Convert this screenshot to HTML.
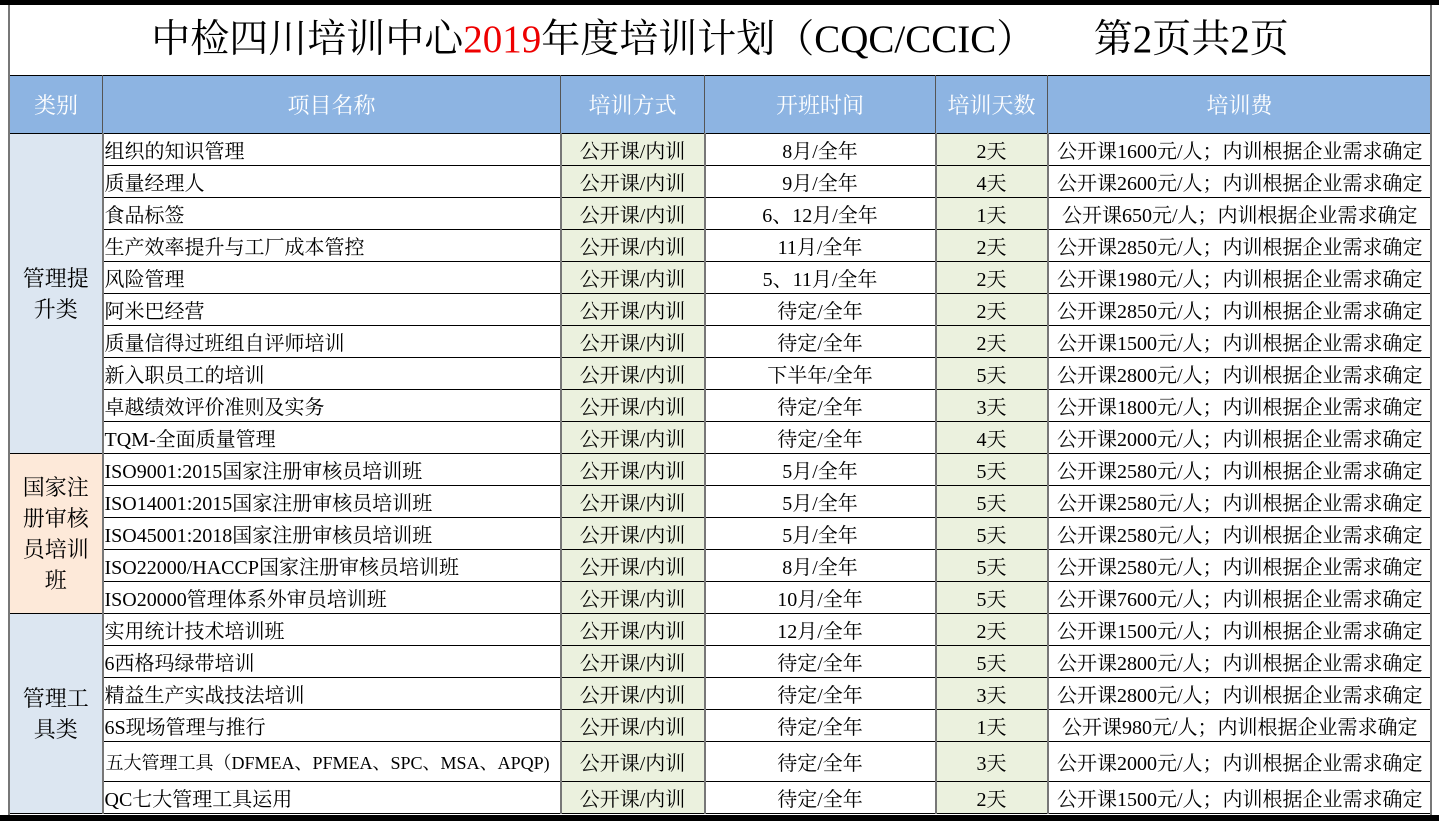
<!DOCTYPE html>
<html><head><meta charset="utf-8"><style>
*{margin:0;padding:0;box-sizing:border-box}
body{width:1439px;height:821px;background:#fff;position:relative;overflow:hidden;font-family:"Liberation Serif","Noto Serif CJK SC",serif;color:#000}
.topbar{position:absolute;left:0;top:0;width:1439px;height:5px;background:#000}
.bot{position:absolute;left:0;top:815px;width:1439px;height:6px;background:#000}
.lb{position:absolute;left:8px;top:5px;width:2px;height:810px;background:#777}
.rb{position:absolute;left:1430px;top:5px;width:2px;height:810px;background:#777}
.title{position:absolute;left:10px;top:5px;width:1420px;height:70px;text-align:center;font-size:39px;line-height:70px;white-space:pre}
.title span{color:#e00}
table{position:absolute;left:9px;top:75px;width:1422px;border-collapse:collapse;table-layout:fixed}
td{border:1.5px solid #000;font-size:20px;white-space:nowrap;overflow:hidden;padding:0}
tr.h td{height:58px;background:#8db4e2;color:#fff;font-size:22px;text-align:center;border-left-color:#555;border-right-color:#555}
tr td{height:32px}
.n{text-align:left;padding-left:1px}
.g{background:#ebf1de;text-align:center;border-left:2px solid #777;border-right:2px solid #777}
.c{text-align:center}
.cat{text-align:center;font-size:22px;line-height:31px;white-space:normal;border-right:2px solid #777}
.b1{background:#dce6f1}.b2{background:#fde9d9}
</style></head><body>
<div class="topbar"></div>
<div class="title">中检四川培训中心<span>2019</span>年度培训计划（CQC/CCIC）      第2页共2页</div>
<table>
<colgroup><col style="width:93px"><col style="width:458px"><col style="width:144px"><col style="width:231px"><col style="width:112px"><col style="width:384px"></colgroup>
<tr class="h"><td>类别</td><td>项目名称</td><td>培训方式</td><td>开班时间</td><td>培训天数</td><td>培训费</td></tr>
<tr><td class="cat b1" rowspan="10">管理提<br>升类</td><td class="n">组织的知识管理</td><td class="g">公开课/内训</td><td class="c">8月/全年</td><td class="g">2天</td><td class="c">公开课1600元/人；内训根据企业需求确定</td></tr>
<tr><td class="n">质量经理人</td><td class="g">公开课/内训</td><td class="c">9月/全年</td><td class="g">4天</td><td class="c">公开课2600元/人；内训根据企业需求确定</td></tr>
<tr><td class="n">食品标签</td><td class="g">公开课/内训</td><td class="c">6、12月/全年</td><td class="g">1天</td><td class="c">公开课650元/人；内训根据企业需求确定</td></tr>
<tr><td class="n">生产效率提升与工厂成本管控</td><td class="g">公开课/内训</td><td class="c">11月/全年</td><td class="g">2天</td><td class="c">公开课2850元/人；内训根据企业需求确定</td></tr>
<tr><td class="n">风险管理</td><td class="g">公开课/内训</td><td class="c">5、11月/全年</td><td class="g">2天</td><td class="c">公开课1980元/人；内训根据企业需求确定</td></tr>
<tr><td class="n">阿米巴经营</td><td class="g">公开课/内训</td><td class="c">待定/全年</td><td class="g">2天</td><td class="c">公开课2850元/人；内训根据企业需求确定</td></tr>
<tr><td class="n">质量信得过班组自评师培训</td><td class="g">公开课/内训</td><td class="c">待定/全年</td><td class="g">2天</td><td class="c">公开课1500元/人；内训根据企业需求确定</td></tr>
<tr><td class="n">新入职员工的培训</td><td class="g">公开课/内训</td><td class="c">下半年/全年</td><td class="g">5天</td><td class="c">公开课2800元/人；内训根据企业需求确定</td></tr>
<tr><td class="n">卓越绩效评价准则及实务</td><td class="g">公开课/内训</td><td class="c">待定/全年</td><td class="g">3天</td><td class="c">公开课1800元/人；内训根据企业需求确定</td></tr>
<tr><td class="n">TQM-全面质量管理</td><td class="g">公开课/内训</td><td class="c">待定/全年</td><td class="g">4天</td><td class="c">公开课2000元/人；内训根据企业需求确定</td></tr>
<tr><td class="cat b2" rowspan="5">国家注<br>册审核<br>员培训<br>班</td><td class="n">ISO9001:2015国家注册审核员培训班</td><td class="g">公开课/内训</td><td class="c">5月/全年</td><td class="g">5天</td><td class="c">公开课2580元/人；内训根据企业需求确定</td></tr>
<tr><td class="n">ISO14001:2015国家注册审核员培训班</td><td class="g">公开课/内训</td><td class="c">5月/全年</td><td class="g">5天</td><td class="c">公开课2580元/人；内训根据企业需求确定</td></tr>
<tr><td class="n">ISO45001:2018国家注册审核员培训班</td><td class="g">公开课/内训</td><td class="c">5月/全年</td><td class="g">5天</td><td class="c">公开课2580元/人；内训根据企业需求确定</td></tr>
<tr><td class="n">ISO22000/HACCP国家注册审核员培训班</td><td class="g">公开课/内训</td><td class="c">8月/全年</td><td class="g">5天</td><td class="c">公开课2580元/人；内训根据企业需求确定</td></tr>
<tr><td class="n">ISO20000管理体系外审员培训班</td><td class="g">公开课/内训</td><td class="c">10月/全年</td><td class="g">5天</td><td class="c">公开课7600元/人；内训根据企业需求确定</td></tr>
<tr><td class="cat b1" rowspan="6">管理工<br>具类</td><td class="n">实用统计技术培训班</td><td class="g">公开课/内训</td><td class="c">12月/全年</td><td class="g">2天</td><td class="c">公开课1500元/人；内训根据企业需求确定</td></tr>
<tr><td class="n">6西格玛绿带培训</td><td class="g">公开课/内训</td><td class="c">待定/全年</td><td class="g">5天</td><td class="c">公开课2800元/人；内训根据企业需求确定</td></tr>
<tr><td class="n">精益生产实战技法培训</td><td class="g">公开课/内训</td><td class="c">待定/全年</td><td class="g">3天</td><td class="c">公开课2800元/人；内训根据企业需求确定</td></tr>
<tr><td class="n">6S现场管理与推行</td><td class="g">公开课/内训</td><td class="c">待定/全年</td><td class="g">1天</td><td class="c">公开课980元/人；内训根据企业需求确定</td></tr>
<tr><td class="n" style="height:40px;font-size:18px;padding-left:2px">五大管理工具（DFMEA、PFMEA、SPC、MSA、APQP)</td><td class="g">公开课/内训</td><td class="c">待定/全年</td><td class="g">3天</td><td class="c">公开课2000元/人；内训根据企业需求确定</td></tr>
<tr><td class="n">QC七大管理工具运用</td><td class="g">公开课/内训</td><td class="c">待定/全年</td><td class="g">2天</td><td class="c">公开课1500元/人；内训根据企业需求确定</td></tr>
</table>
<div class="lb"></div><div class="rb"></div>
<div class="bot"></div>
</body></html>
